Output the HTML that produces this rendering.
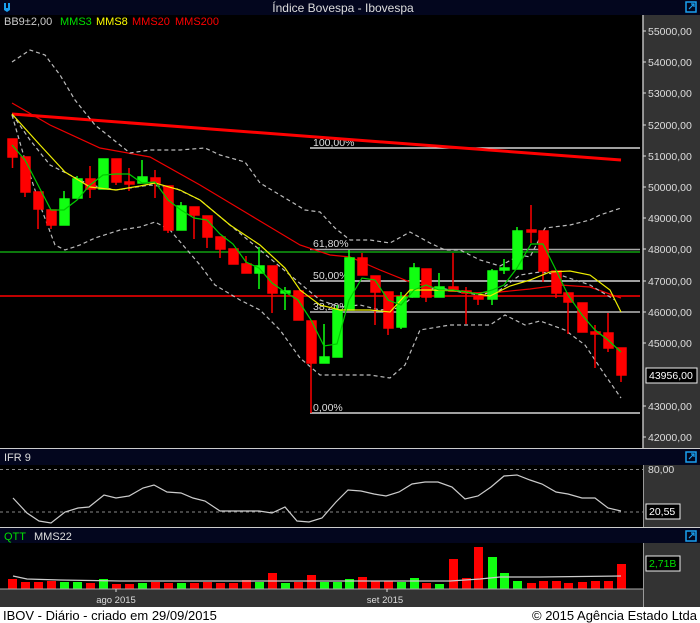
<!DOCTYPE html>
<html><head><meta charset="utf-8"><style>
html,body{margin:0;padding:0;background:#fff;}
svg{display:block;font-family:"Liberation Sans",sans-serif;}
</style></head><body>
<svg width="700" height="623" xmlns="http://www.w3.org/2000/svg">
<rect x="0" y="0" width="700" height="623" fill="#fff"/>
<rect x="643" y="15" width="57" height="592" fill="#333"/>
<rect x="0" y="0" width="700" height="15" fill="#03061e"/>
<rect x="0" y="15" width="643" height="433" fill="#000"/>
<text x="343" y="12" font-size="12" fill="#ddd" text-anchor="middle">Índice Bovespa - Ibovespa</text>
<path d="M4 3 L6 3 L6 8 L8 8 L8 3 L10 3 L10 10 L7 12 L4 10Z" fill="#1aa0f0"/>
<rect x="686" y="2" width="10" height="10" fill="none" stroke="#1aa0f0" stroke-width="1.5"/>
<path d="M689 9 L694 4 M691 4 L694 4 L694 7" stroke="#1aa0f0" stroke-width="1.2" fill="none"/>
<g font-size="11">
<text x="4" y="25" fill="#ccc">BB9±2,00</text>
<text x="60" y="25" fill="#00e000">MMS3</text>
<text x="96" y="25" fill="#ffff00">MMS8</text>
<text x="132" y="25" fill="#f00">MMS20</text>
<text x="175" y="25" fill="#f00">MMS200</text>
</g>
<line x1="643" y1="15" x2="643" y2="607" stroke="#bbb" stroke-width="1.5"/>
<g font-size="10.5" fill="#ddd">
<text x="648" y="35">55000,00</text><text x="648" y="66">54000,00</text><text x="648" y="97">53000,00</text><text x="648" y="129">52000,00</text><text x="648" y="160">51000,00</text><text x="648" y="191">50000,00</text><text x="648" y="222">49000,00</text><text x="648" y="253">48000,00</text><text x="648" y="285">47000,00</text><text x="648" y="316">46000,00</text><text x="648" y="347">45000,00</text><text x="648" y="410">43000,00</text><text x="648" y="441">42000,00</text>
</g>
<g stroke="#ddd"><path d="M643 31h3M643 62h3M643 93h3M643 125h3M643 156h3M643 187h3M643 218h3M643 249h3M643 281h3M643 312h3M643 343h3M643 406h3M643 437h3"/></g>
<rect x="646" y="368" width="51" height="15" fill="#000" stroke="#eee"/>
<text x="649" y="379" font-size="10.5" fill="#fff">43956,00</text>
<g stroke="#fff" stroke-width="1.2">
<line x1="310" y1="148" x2="640" y2="148"/>
<line x1="310" y1="281" x2="640" y2="281"/>
<line x1="310" y1="413" x2="640" y2="413"/>
</g>
<line x1="310" y1="249.5" x2="640" y2="249.5" stroke="#aaa" stroke-width="1.5"/>
<line x1="310" y1="312" x2="640" y2="312" stroke="#bbb" stroke-width="1.5"/>
<line x1="0" y1="252" x2="640" y2="252" stroke="#10a010" stroke-width="1.5"/>
<line x1="0" y1="296" x2="640" y2="296" stroke="#f00" stroke-width="1.5"/>
<g font-size="10.5" fill="#ddd">
<text x="313" y="146">100,00%</text><text x="313" y="247">61,80%</text><text x="313" y="279">50,00%</text><text x="313" y="310">38,20%</text><text x="313" y="411">0,00%</text>
</g>
<line x1="12" y1="114" x2="621" y2="160" stroke="#f00" stroke-width="3"/>
<polyline fill="none" stroke="#e00" stroke-width="1.2" points="12,103 50,125 100,148 150,157 200,185 250,215 300,245 330,255 350,257 380,270 410,282 440,289 470,293 500,292 530,289 560,285 590,287 621,298"/>
<g fill="none" stroke="#bbb" stroke-width="1.2" stroke-dasharray="4,3">
<polyline points="12,62 30,50 45,55 60,75 75,100 95,125 120,145 130,153 150,150 180,150 205,148 220,155 245,162 260,183 280,195 305,210 320,212 335,228 350,240 370,240 390,243 410,232 430,243 445,250 460,250 480,260 500,266 520,255 530,257 545,228 570,225 590,220 600,215 621,208"/>
<polyline points="12,114 30,140 50,165 70,175 90,185 116,190 150,185 175,188 200,200 230,225 260,250 290,275 320,300 340,307 360,305 380,310 400,308 420,290 440,288 460,292 480,295 500,290 520,275 540,272 560,275 590,285 615,300"/>
<polyline points="12,115 25,160 40,205 55,245 65,250 80,245 95,238 120,230 140,227 155,222 170,230 200,265 215,285 240,300 260,310 280,330 300,358 320,375 345,375 370,375 390,378 405,365 420,330 450,325 490,325 505,315 525,325 540,321 565,330 585,345 605,375 621,398"/>
</g>
<g stroke-width="1.5">
<g stroke="#f00" fill="#f00">
<line x1="12.5" y1="139" x2="12.5" y2="168"/><rect x="8" y="139" width="9" height="18"/>
<line x1="25" y1="157" x2="25" y2="197"/><rect x="21" y="157" width="9" height="35"/>
<line x1="38" y1="192" x2="38" y2="229"/><rect x="34" y="192" width="9" height="17"/>
<line x1="51" y1="210" x2="51" y2="229"/><rect x="47" y="210" width="9" height="15"/>
<line x1="90" y1="166" x2="90" y2="198"/><rect x="86" y="179" width="9" height="10"/>
<line x1="116" y1="159" x2="116" y2="185"/><rect x="112" y="159" width="9" height="23"/>
<line x1="129" y1="168" x2="129" y2="191"/><rect x="125" y="182" width="9" height="2"/>
<line x1="155" y1="170" x2="155" y2="198"/><rect x="151" y="178" width="9" height="5"/>
<line x1="168" y1="186" x2="168" y2="233"/><rect x="164" y="186" width="9" height="44"/>
<line x1="194" y1="207" x2="194" y2="239"/><rect x="190" y="207" width="9" height="8"/>
<line x1="207" y1="216" x2="207" y2="248"/><rect x="203" y="216" width="9" height="21"/>
<line x1="220" y1="237" x2="220" y2="258"/><rect x="216" y="237" width="9" height="12"/>
<line x1="233" y1="249" x2="233" y2="264"/><rect x="229" y="249" width="9" height="15"/>
<line x1="246" y1="256" x2="246" y2="273"/><rect x="242" y="264" width="9" height="9"/>
<line x1="272" y1="266" x2="272" y2="313"/><rect x="268" y="266" width="9" height="27"/>
<line x1="298" y1="291" x2="298" y2="320"/><rect x="294" y="291" width="9" height="29"/>
<line x1="311" y1="321" x2="311" y2="413"/><rect x="307" y="321" width="9" height="42"/>
<line x1="362" y1="253" x2="362" y2="275"/><rect x="358" y="258" width="9" height="17"/>
<line x1="375" y1="276" x2="375" y2="325"/><rect x="371" y="276" width="9" height="16"/>
<line x1="388" y1="292" x2="388" y2="335"/><rect x="384" y="292" width="9" height="36"/>
<line x1="426" y1="269" x2="426" y2="302"/><rect x="422" y="269" width="9" height="28"/>
<line x1="453" y1="253" x2="453" y2="291"/><rect x="449" y="287" width="9" height="4"/>
<line x1="466" y1="287" x2="466" y2="324"/><rect x="462" y="291" width="9" height="2"/>
<line x1="478" y1="296" x2="478" y2="305"/><rect x="474" y="296" width="9" height="3"/>
<line x1="531" y1="205" x2="531" y2="243"/><rect x="527" y="230" width="9" height="2"/>
<line x1="543" y1="231" x2="543" y2="282"/><rect x="539" y="231" width="9" height="40"/>
<line x1="556" y1="271" x2="556" y2="298"/><rect x="552" y="271" width="9" height="22"/>
<line x1="568" y1="293" x2="568" y2="334"/><rect x="564" y="293" width="9" height="9"/>
<line x1="582" y1="303" x2="582" y2="332"/><rect x="578" y="303" width="9" height="29"/>
<line x1="595" y1="325" x2="595" y2="368"/><rect x="591" y="332" width="9" height="2"/>
<line x1="608" y1="313" x2="608" y2="352"/><rect x="604" y="333" width="9" height="15"/>
<line x1="621" y1="348" x2="621" y2="382"/><rect x="617" y="348" width="9" height="27"/>
</g>
<g stroke="#1f1" fill="#1f1">
<line x1="64" y1="191" x2="64" y2="225"/><rect x="60" y="199" width="9" height="26"/>
<line x1="77" y1="176" x2="77" y2="198"/><rect x="73" y="179" width="9" height="19"/>
<line x1="103" y1="159" x2="103" y2="189"/><rect x="99" y="159" width="9" height="30"/>
<line x1="142" y1="160" x2="142" y2="183"/><rect x="138" y="177" width="9" height="6"/>
<line x1="181" y1="202" x2="181" y2="230"/><rect x="177" y="206" width="9" height="24"/>
<line x1="259" y1="247" x2="259" y2="289"/><rect x="255" y="266" width="9" height="7"/>
<line x1="285" y1="287" x2="285" y2="310"/><rect x="281" y="291" width="9" height="2"/>
<line x1="324" y1="324" x2="324" y2="363"/><rect x="320" y="357" width="9" height="6"/>
<line x1="337" y1="305" x2="337" y2="357"/><rect x="333" y="310" width="9" height="47"/>
<line x1="349" y1="250" x2="349" y2="310"/><rect x="345" y="258" width="9" height="52"/>
<line x1="401" y1="292" x2="401" y2="329"/><rect x="397" y="297" width="9" height="30"/>
<line x1="414" y1="263" x2="414" y2="297"/><rect x="410" y="268" width="9" height="29"/>
<line x1="439" y1="273" x2="439" y2="297"/><rect x="435" y="287" width="9" height="10"/>
<line x1="492" y1="269" x2="492" y2="305"/><rect x="488" y="271" width="9" height="28"/>
<line x1="504" y1="259" x2="504" y2="274"/><rect x="500" y="268" width="9" height="2"/>
<line x1="517" y1="227" x2="517" y2="269"/><rect x="513" y="231" width="9" height="38"/>
</g>
</g>
<polyline fill="none" stroke="#ee0" stroke-width="1.2" points="12,114 40,145 65,172 90,187 116,190 140,186 155,183 180,190 200,200 230,225 260,245 285,268 300,290 320,305 340,310 370,310 390,312 410,290 430,290 460,291 490,296 510,286 530,280 550,272 570,271 590,275 610,290 621,312"/>
<polyline fill="none" stroke="#0c0" stroke-width="1.2" points="12,145 25,160 38,185 51,210 64,210 77,200 90,185 103,175 116,174 129,174 142,183 155,182 168,200 181,210 194,218 207,220 220,234 233,244 246,262 259,268 272,283 285,292 298,300 311,320 324,346 337,344 349,300 362,278 375,280 388,300 401,305 414,290 426,285 439,290 453,290 466,292 478,294 492,290 504,285 517,268 531,244 543,244 556,270 568,295 582,315 595,330 608,340 621,352"/>

<line x1="0" y1="448.5" x2="700" y2="448.5" stroke="#ccc"/>
<rect x="0" y="449" width="700" height="16" fill="#03061e"/>
<text x="4" y="461" font-size="11" fill="#ddd">IFR 9</text>
<rect x="686" y="452" width="10" height="10" fill="none" stroke="#1aa0f0" stroke-width="1.5"/>
<path d="M689 459 L694 454 M691 454 L694 454 L694 457" stroke="#1aa0f0" stroke-width="1.2" fill="none"/>
<rect x="0" y="465" width="643" height="62" fill="#000"/>
<line x1="0" y1="469.5" x2="643" y2="469.5" stroke="#888" stroke-dasharray="3,3"/>
<line x1="0" y1="512" x2="643" y2="512" stroke="#888" stroke-dasharray="3,3"/>
<polyline fill="none" stroke="#ccc" stroke-width="1.2" points="13,498 27,513 39,521 51,523 65,512 78,508 89,507 104,495 116,498 129,496 143,488 154,485 167,492 181,493 193,498 205,501 220,511 232,511 246,511 259,511 272,513 285,507 297,521 309,522 322,518 336,502 348,490 361,491 374,494 386,496 399,492 412,484 425,482 438,482 452,487 465,499 478,496 491,487 504,476 517,475 530,480 542,484 556,492 568,494 582,498 595,498 608,508 621,511"/>
<text x="648" y="473" font-size="10.5" fill="#ddd">80,00</text>
<rect x="646" y="504" width="34" height="15" fill="#000" stroke="#eee"/>
<text x="649" y="515" font-size="10.5" fill="#fff">20,55</text>

<line x1="0" y1="527.5" x2="700" y2="527.5" stroke="#ccc"/>
<rect x="0" y="528" width="700" height="15" fill="#03061e"/>
<text x="4" y="540" font-size="11" fill="#00e000">QTT</text>
<text x="34" y="540" font-size="11" fill="#ddd">MMS22</text>
<rect x="686" y="531" width="10" height="10" fill="none" stroke="#1aa0f0" stroke-width="1.5"/>
<path d="M689 538 L694 533 M691 533 L694 533 L694 536" stroke="#1aa0f0" stroke-width="1.2" fill="none"/>
<rect x="0" y="543" width="643" height="46" fill="#000"/>
<g fill="#f00">
<rect x="8" y="579" width="9" height="10"/><rect x="21" y="582" width="9" height="7"/><rect x="34" y="582" width="9" height="7"/><rect x="47" y="581" width="9" height="8"/>
<rect x="86" y="583" width="9" height="6"/><rect x="112" y="584" width="9" height="5"/><rect x="125" y="584" width="9" height="5"/><rect x="151" y="582" width="9" height="7"/><rect x="164" y="583" width="9" height="6"/><rect x="190" y="583" width="9" height="6"/><rect x="203" y="582" width="9" height="7"/><rect x="216" y="583" width="9" height="6"/><rect x="229" y="583" width="9" height="6"/><rect x="242" y="580" width="9" height="9"/><rect x="268" y="573" width="9" height="16"/><rect x="294" y="582" width="9" height="7"/><rect x="307" y="575" width="9" height="14"/><rect x="358" y="577" width="9" height="12"/><rect x="371" y="581" width="9" height="8"/><rect x="384" y="581" width="9" height="8"/><rect x="422" y="583" width="9" height="6"/><rect x="449" y="559" width="9" height="30"/><rect x="462" y="578" width="9" height="11"/><rect x="474" y="547" width="9" height="42"/><rect x="539" y="581" width="9" height="8"/><rect x="552" y="581" width="9" height="8"/><rect x="564" y="583" width="9" height="6"/><rect x="578" y="582" width="9" height="7"/><rect x="591" y="581" width="9" height="8"/><rect x="604" y="581" width="9" height="8"/><rect x="617" y="564" width="9" height="25"/><rect x="527" y="583" width="9" height="6"/>
</g>
<g fill="#1f1">
<rect x="60" y="582" width="9" height="7"/><rect x="73" y="582" width="9" height="7"/><rect x="99" y="579" width="9" height="10"/><rect x="138" y="583" width="9" height="6"/><rect x="177" y="583" width="9" height="6"/><rect x="255" y="582" width="9" height="7"/><rect x="281" y="583" width="9" height="6"/><rect x="320" y="582" width="9" height="7"/><rect x="333" y="582" width="9" height="7"/><rect x="345" y="579" width="9" height="10"/><rect x="397" y="582" width="9" height="7"/><rect x="410" y="578" width="9" height="11"/><rect x="435" y="584" width="9" height="5"/><rect x="488" y="557" width="9" height="32"/><rect x="500" y="573" width="9" height="16"/><rect x="513" y="581" width="9" height="8"/>
</g>
<polyline fill="none" stroke="#ccc" stroke-width="1.2" points="13,576 27,579 60,580 120,581 300,581 450,581 480,579 500,577 540,577 621,576"/>
<rect x="646" y="556" width="34" height="15" fill="#000" stroke="#eee"/>
<text x="649" y="567" font-size="10.5" fill="#00e000">2,71B</text>

<rect x="0" y="589" width="643" height="18" fill="#333"/>
<line x1="0" y1="589" x2="643" y2="589" stroke="#aaa"/>
<line x1="116" y1="589" x2="116" y2="592" stroke="#ddd"/>
<line x1="387" y1="589" x2="387" y2="592" stroke="#ddd"/>
<text x="116" y="603" font-size="9.5" fill="#ddd" text-anchor="middle">ago 2015</text>
<text x="385" y="603" font-size="9.5" fill="#ddd" text-anchor="middle">set 2015</text>
<rect x="0" y="607" width="700" height="16" fill="#fff"/>
<text x="3" y="620" font-size="13" fill="#000">IBOV - Diário - criado em 29/09/2015</text>
<text x="697" y="620" font-size="13" fill="#000" text-anchor="end">© 2015 Agência Estado Ltda</text>
</svg>
</body></html>
